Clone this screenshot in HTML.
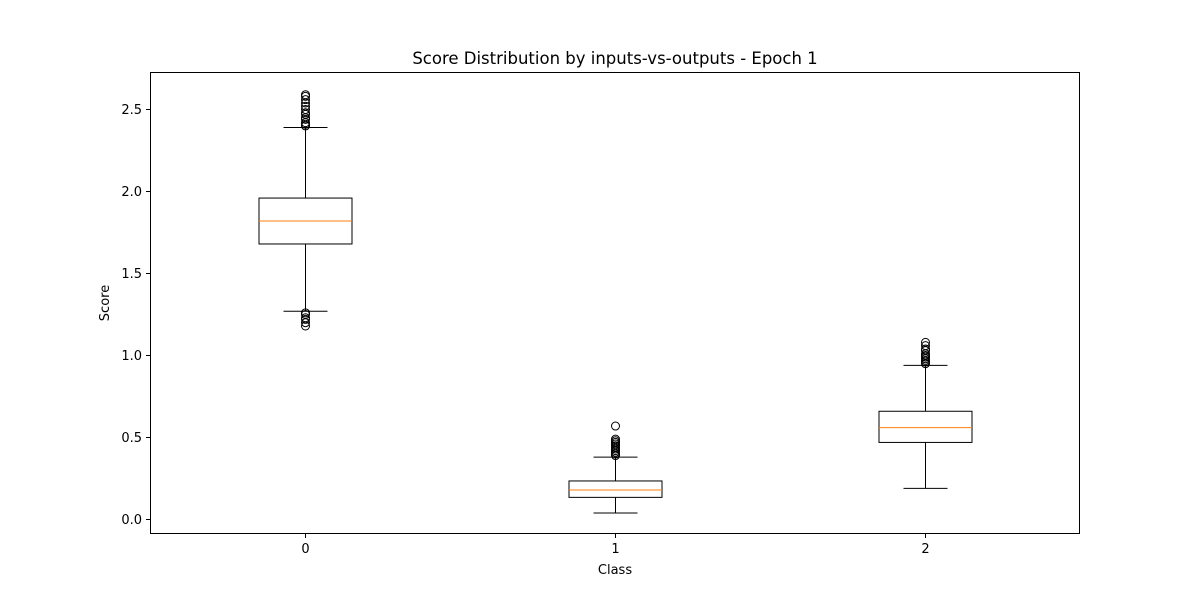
<!DOCTYPE html>
<html><head><meta charset="utf-8"><style>
body{margin:0;background:#fff;font-family:"Liberation Sans","DejaVu Sans",sans-serif}
svg text{font-family:"DejaVu Sans","Liberation Sans",sans-serif;font-size:13px;fill:#000}
</style></head><body>
<svg id="chart" width="1200" height="600" xmlns="http://www.w3.org/2000/svg">
<rect width="1200" height="600" fill="#fff"/>
<text x="615" y="64" text-anchor="middle" style="font-size:16.5px">Score Distribution by inputs-vs-outputs - Epoch 1</text>
<g id="marks"></g>
<rect x="150.5" y="72.5" width="929" height="461" fill="none" stroke="#000" stroke-width="1"/>
<text x="615" y="574" text-anchor="middle">Class</text>
<text transform="translate(109,303) rotate(-90)" text-anchor="middle">Score</text>
</svg>
<script>
const categories = ["0","1","2"];
const q1 = [1.68, 0.135, 0.47];
const medians = [1.82, 0.18, 0.56];
const q3 = [1.96, 0.235, 0.66];
const whiskerLow = [1.27, 0.04, 0.19];
const whiskerHigh = [2.39, 0.38, 0.94];
const outliers0 = [2.40,2.41,2.42,2.44,2.45,2.47,2.48,2.50,2.52,2.54,2.56,2.58,2.59,1.18,1.20,1.22,1.23,1.25,1.26];
const outliers1 = [0.39,0.40,0.41,0.42,0.43,0.44,0.45,0.46,0.47,0.48,0.49,0.57];
const outliers2 = [0.95,0.96,0.97,0.98,0.99,1.00,1.01,1.03,1.04,1.06,1.08];
const outliers = [outliers0, outliers1, outliers2];
const yTicks = [0.0,0.5,1.0,1.5,2.0,2.5];
const yTickLabels = ["0.0","0.5","1.0","1.5","2.0","2.5"];

const NS="http://www.w3.org/2000/svg";
const y = v => 519.5 - 164*v;
const x = i => 305.5 + 310*i;
const g = document.getElementById('marks');
function mk(tag, attrs){const e=document.createElementNS(NS,tag);for(const k in attrs)e.setAttribute(k,attrs[k]);g.appendChild(e);return e;}
yTicks.forEach((t,i)=>{
  const l=mk('line',{x1:146,x2:150,y1:y(t),y2:y(t),stroke:'#000'});
  
  
  const tx=mk('text',{x:142,y:y(t)+4.5,'text-anchor':'end'});tx.textContent=yTickLabels[i];
  
  
});
categories.forEach((c,i)=>{
  const cx=x(i);
  const l=mk('line',{x1:cx,x2:cx,y1:534,y2:538,stroke:'#000'});
  
  
  const tx=mk('text',{x:cx,y:553,'text-anchor':'middle'});tx.textContent=c;
  
  
  const w1=mk('line',{x1:cx,x2:cx,y1:y(q1[i]),y2:y(whiskerLow[i]),stroke:'#000'});
  
  
  const w2=mk('line',{x1:cx,x2:cx,y1:y(q3[i]),y2:y(whiskerHigh[i]),stroke:'#000'});
  
  
  [whiskerLow[i],whiskerHigh[i]].forEach(v=>{
    const cap=mk('line',{x1:cx-22,x2:cx+22,y1:y(v),y2:y(v),stroke:'#000'});
    
    
  });
  const b=mk('rect',{x:cx-46.5,y:y(q3[i]),width:93,height:y(q1[i])-y(q3[i]),fill:'none',stroke:'#000'});
  
  
  const m=mk('line',{x1:cx-46.5,x2:cx+46.5,y1:y(medians[i]),y2:y(medians[i]),stroke:'#ff7f0e'});
  
  
  outliers[i].forEach(v=>{
    const o=mk('circle',{cx:cx,cy:y(v),r:4,fill:'none',stroke:'#000'});
    
    
  });
});
</script>
</body></html>
